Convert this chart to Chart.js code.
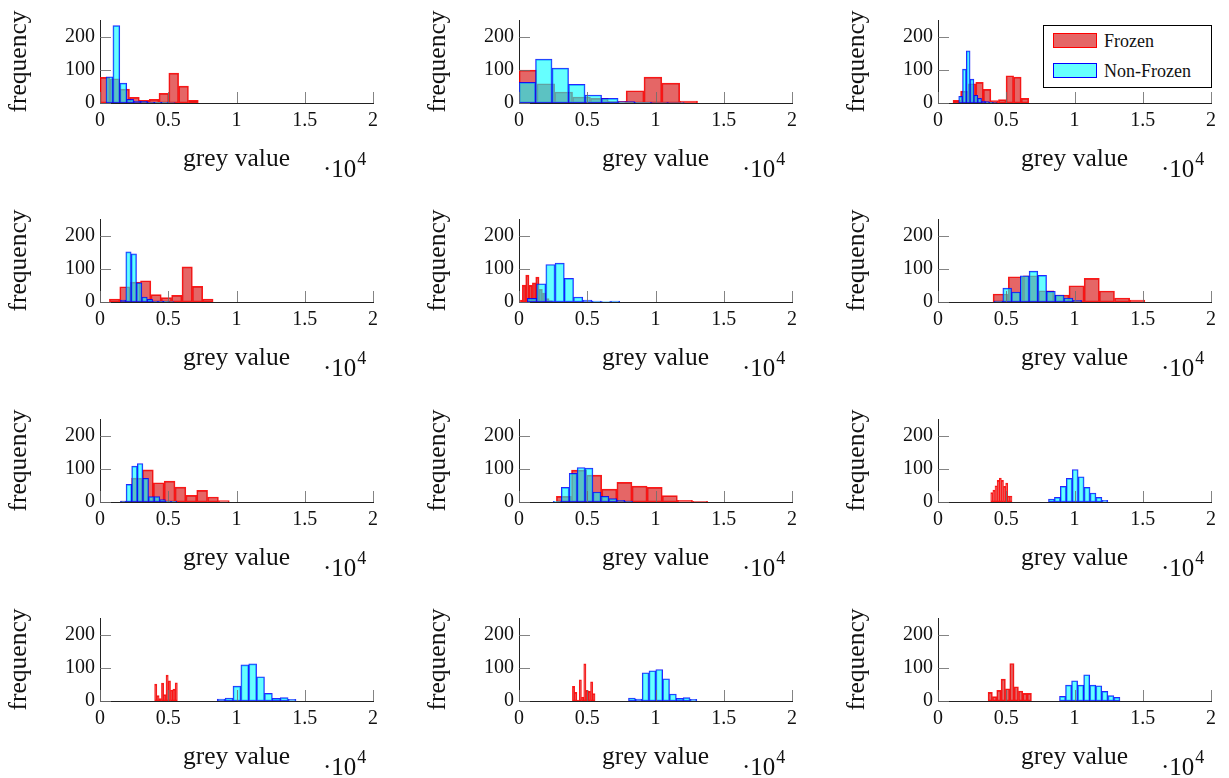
<!DOCTYPE html>
<html>
<head>
<meta charset="utf-8">
<script src="https://cdn.jsdelivr.net/npm/chart.js@4.4.1/dist/chart.umd.min.js"></script>
<style>
  body { margin: 0; width: 1229px; height: 778px; overflow: hidden; background: #fff; position: relative; }
  .panel { position: absolute; width: 419px; height: 199px; }
  #legend { position: absolute; left: 1043px; top: 25px; width: 169px; height: 63px; border: 1px solid #000;
    box-sizing: border-box; background: #fff; font: 18px "Liberation Serif", serif; color: #111; z-index: 5; }
  .sw { position: absolute; left: 9px; width: 44px; height: 15px; box-sizing: border-box; }
  .lt { position: absolute; left: 60px; line-height: 20px; }
</style>
</head>
<body>
<div id="legend">
  <div class="sw" style="top:7px;background:rgba(215,20,20,0.65);border:1px solid red"></div>
  <div class="lt" style="top:5px">Frozen</div>
  <div class="sw" style="top:37px;background:rgba(0,255,255,0.6);border:1px solid blue"></div>
  <div class="lt" style="top:35px">Non-Frozen</div>
</div>
<script>
// histogram bins: first edge, bin width (grey value) and counts per panel, row by row
const frozenStart = [0, 0, 1100, 687, 0, 4034, 1521, 2738, 3863, 4000, 3912, 3667];
const frozenWidth = [720, 1308, 555, 760, 245, 1112, 795, 1108, 156, 167, 166, 318];
const frozenCounts = [
  [77, 73, 42, 17, 8, 11, 29, 90, 51, 8],
  [99, 58, 33, 18, 14, 5, 37, 78, 60, 6],
  [8, 36, 58, 62, 41, 7, 10, 82, 78, 14],
  [9, 46, 60, 64, 22, 13, 20, 106, 47, 9],
  [6, 51, 81, 50, 58, 75, 38, 27, 10, 4],
  [24, 76, 79, 34, 21, 49, 71, 33, 12, 6],
  [3, 72, 97, 58, 63, 45, 20, 35, 15, 4],
  [17, 96, 81, 39, 59, 48, 44, 19, 5, 2],
  [28, 36, 49, 65, 72, 65, 47, 57, 18, 18],
  [51, 16, 7, 54, 19, 78, 61, 33, 36, 55],
  [44, 26, 3, 64, 12, 112, 32, 29, 58, 22],
  [26, 13, 32, 66, 37, 113, 43, 30, 23, 23]
];

const nonFrozenStart = [440, 0, 1516, 1497, 611, 4108, 1497, 2518, 8093, 8589, 8020, 8900];
const nonFrozenWidth = [506, 1210, 279, 393, 677, 641, 412, 580, 435, 577, 501, 443];
const nonFrozenCounts = [
  [79, 233, 60, 11, 6, 5, 3, 2, 2, 1],
  [62, 132, 105, 56, 24, 14, 4, 2, 1, 1],
  [20, 102, 157, 72, 23, 14, 6, 4, 2, 1],
  [6, 151, 145, 58, 15, 8, 3, 3, 2, 1],
  [11, 55, 113, 117, 71, 15, 6, 3, 1, 3],
  [3, 42, 30, 79, 93, 80, 32, 21, 12, 5],
  [3, 53, 108, 116, 71, 16, 16, 7, 2, 2],
  [2, 44, 86, 104, 102, 30, 17, 10, 5, 3],
  [9, 14, 47, 71, 98, 76, 44, 27, 14, 5],
  [6, 9, 45, 109, 112, 73, 23, 8, 10, 5],
  [9, 6, 85, 91, 95, 67, 21, 8, 10, 5],
  [14, 48, 61, 48, 79, 48, 46, 29, 16, 11]
];

const xTickStep = 5000;
const yTickStep = 100;
const xLabel = 'grey value';
const yLabel = 'frequency';

const serif = '"Liberation Serif", "Times New Roman", serif';

const toPoints = (start, width, counts) =>
  counts.map((c, i) => ({ x: start + (i + 0.5) * width, y: c }));

// pgfplots style ticks pointing into the plot, plus the ·10^4 scale label
const innerTicks = {
  id: 'innerTicks',
  afterDatasetsDraw(chart) {
    const { ctx, chartArea: a, scales: { x, y } } = chart;
    ctx.save();
    ctx.strokeStyle = 'rgba(110,110,110,0.85)';
    ctx.lineWidth = 1;
    ctx.beginPath();
    x.ticks.forEach(t => {
      let px = Math.round(x.getPixelForValue(t.value)) + 0.5;
      ctx.moveTo(px, a.bottom);
      ctx.lineTo(px, a.bottom - 11);
    });
    y.ticks.forEach(t => {
      let py = Math.round(y.getPixelForValue(t.value)) + 0.5;
      ctx.moveTo(a.left, py);
      ctx.lineTo(a.left + 11, py);
    });
    ctx.stroke();

    ctx.fillStyle = '#111';
    ctx.textBaseline = 'alphabetic';
    ctx.font = '25px ' + serif;
    let bx = a.left + 223, by = a.bottom + 74;
    ctx.fillText('·10', bx, by);
    let w = ctx.measureText('·10').width;
    ctx.font = '18px ' + serif;
    ctx.fillText('4', bx + w + 1, by - 12);
    ctx.restore();
  }
};

for (let p = 0; p < 12; p++) {
  let col = p % 3, row = Math.floor(p / 3);
  let div = document.createElement('div');
  div.className = 'panel';
  div.style.left = (col * 419) + 'px';
  div.style.top = Math.round(row * 199.3) + 'px';
  let canvas = document.createElement('canvas');
  div.appendChild(canvas);
  document.body.appendChild(div);

  new Chart(canvas, {
    type: 'bar',
    data: {
      datasets: [
        {
          label: 'Frozen',
          data: toPoints(frozenStart[p], frozenWidth[p], frozenCounts[p]),
          xAxisID: 'x',
          order: 1,
          grouped: false,
          backgroundColor: 'rgba(215,20,20,0.65)',
          borderColor: 'rgba(255,0,0,0.9)',
          borderWidth: 1,
          borderSkipped: false,
          barPercentage: 1,
          categoryPercentage: 1
        },
        {
          label: 'Non-Frozen',
          data: toPoints(nonFrozenStart[p], nonFrozenWidth[p], nonFrozenCounts[p]),
          xAxisID: 'xb',
          order: 0,
          grouped: false,
          backgroundColor: 'rgba(0,255,255,0.6)',
          borderColor: 'rgba(0,0,255,0.85)',
          borderWidth: 1,
          borderSkipped: false,
          barPercentage: 1,
          categoryPercentage: 1
        }
      ]
    },
    options: {
      responsive: true,
      maintainAspectRatio: false,
      animation: false,
      devicePixelRatio: 1,
      layout: { padding: { left: 0, right: 46, top: 20, bottom: 0 } },
      plugins: { legend: { display: false }, tooltip: { enabled: false } },
      scales: {
        x: {
          type: 'linear', min: 0, max: 20000, offset: false,
          grid: { display: false, drawTicks: false },
          border: { color: '#222', width: 1 },
          ticks: {
            stepSize: xTickStep, includeBounds: false, padding: 6, maxRotation: 0,
            color: '#111', font: { family: serif, size: 20 },
            callback: v => String(v / 1e4)
          },
          title: {
            display: true, text: xLabel, color: '#111',
            font: { family: serif, size: 25.5 }, padding: { top: 0, bottom: 24 }
          },
          afterFit: s => { s.height = 96; }
        },
        xb: {
          type: 'linear', display: false, min: 0, max: 20000, offset: false,
          ticks: { stepSize: xTickStep }
        },
        y: {
          min: 0, max: 250,
          grid: { display: false, drawTicks: false },
          border: { color: '#222', width: 1 },
          ticks: {
            stepSize: yTickStep, includeBounds: false, padding: 5,
            color: '#111', font: { family: serif, size: 20 }
          },
          title: {
            display: true, text: yLabel, color: '#111',
            font: { family: serif, size: 25.5 }, padding: { top: 4, bottom: 0 }
          },
          afterFit: s => { s.width = 100; }
        }
      }
    },
    plugins: [innerTicks]
  });
}
</script>
</body>
</html>
